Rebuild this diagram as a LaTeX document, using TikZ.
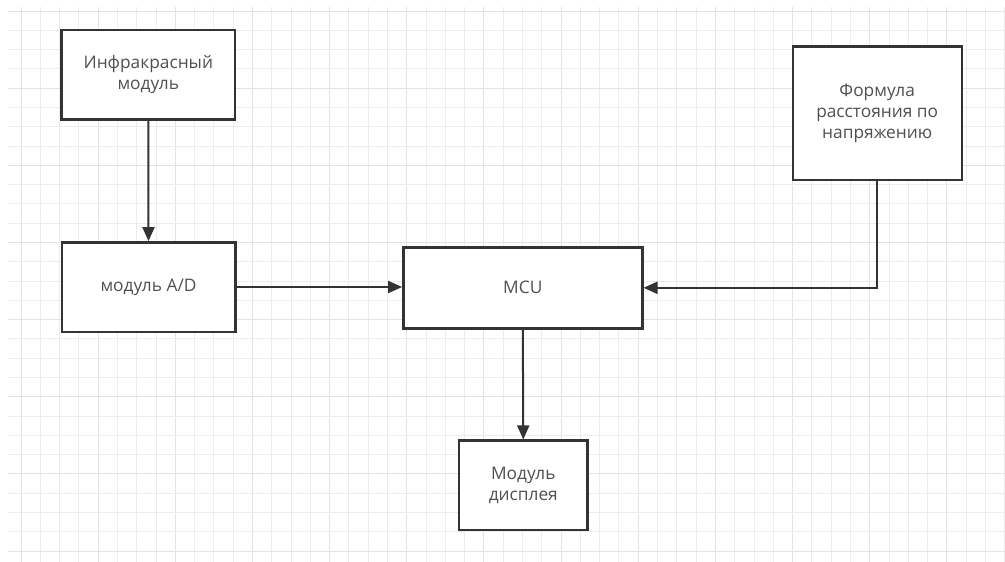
\documentclass[tikz,border=0pt]{standalone}
\usepackage{fontspec}
\setmainfont{Open Sans}
\usetikzlibrary{arrows.meta}
\definecolor{gridminor}{HTML}{ECECEC}
\definecolor{gridmajor}{HTML}{E3E3E3}
\definecolor{boxline}{HTML}{333333}
\definecolor{txt}{HTML}{505050}
\tikzset{
  blockbox/.style={draw=boxline, line width=2.4pt, fill=white, text=txt, align=center,
    inner sep=2pt, font=\fontsize{17.3}{21}\selectfont},
  flow/.style={draw=boxline, line width=2pt, -{Triangle[length=14pt,width=12pt]}},
}
\begin{document}
\begin{tikzpicture}[x=1pt,y=-1pt]
\useasboundingbox (0,0) rectangle (1005,562);
\fill[white] (0,0) rectangle (1005,562);
% grid
\foreach \k in {0,...,51}{
  \pgfmathsetmacro{\xx}{21+19.29*\k}
  \pgfmathtruncatemacro{\m}{mod(\k,4)}
  \ifnum\m=0
    \draw[gridmajor, line width=1pt] (\xx,7) -- (\xx,562);
  \else
    \draw[gridminor, line width=1pt] (\xx,7) -- (\xx,562);
  \fi
}
\foreach \k in {0,...,28}{
  \pgfmathsetmacro{\yy}{11+19.29*\k}
  \pgfmathtruncatemacro{\m}{mod(\k,4)}
  \ifnum\m=0
    \draw[gridmajor, line width=1pt] (8,\yy) -- (1005,\yy);
  \else
    \draw[gridminor, line width=1pt] (8,\yy) -- (1005,\yy);
  \fi
}
% nodes
\node[blockbox, minimum width=173.3pt, minimum height=89.3pt] (inf) at (148.3,74.7) {Инфракрасный\\модуль};
\node[blockbox, minimum width=169pt, minimum height=133.3pt] (form) at (877.2,113.3) {Формула\\расстояния по\\напряжению};
\node[blockbox, minimum width=173.6pt, minimum height=89.4pt] (ad) at (148.5,287) {модуль A/D};
\node[blockbox, minimum width=239pt, minimum height=81pt] (mcu) at (522.8,287.8) {MCU};
\node[blockbox, minimum width=128.7pt, minimum height=89.3pt] (disp) at (523.3,485.3) {Модуль\\дисплея};
% connectors
\draw[flow] (inf.south) -- (ad.north);
\draw[flow] (ad.east) -- (ad.east -| mcu.west);
\draw[flow] (form.south) |- (mcu.east);
\draw[flow] (mcu.south) -- (disp.north);
\end{tikzpicture}
\end{document}
